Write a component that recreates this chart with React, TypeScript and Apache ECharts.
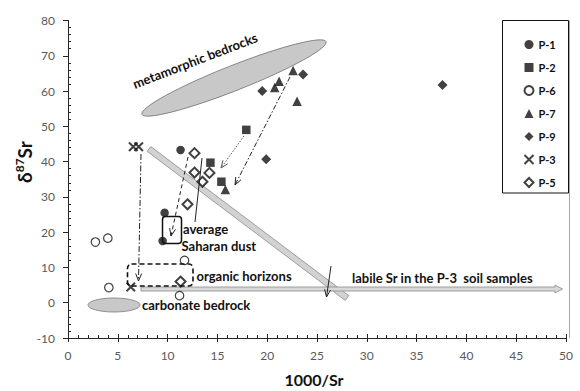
import React, { useEffect, useRef } from 'react';
import * as echarts from 'echarts';

const FONT = 'Lato, "Open Sans", sans-serif';

// ---- data (x = 1000/Sr, y = δ87Sr) ----
const seriesNames = ['P-1', 'P-2', 'P-6', 'P-7', 'P-9', 'P-3', 'P-5'];
const p1Data = [[11.3, 43.3], [9.7, 25.5], [9.5, 17.5]];
const p2Data = [[17.9, 49.0], [14.3, 39.7], [15.4, 34.3]];
const p6Data = [[2.75, 17.2], [4.0, 18.3], [4.1, 4.3], [11.7, 12.0], [11.2, 2.0]];
const p7Data = [[22.6, 65.8], [21.2, 62.8], [20.75, 61.0], [23.0, 57.1], [15.8, 32.1]];
const p9Data = [[23.6, 64.7], [19.5, 60.0], [19.9, 40.7], [37.6, 61.7]];
const p3Data = [[6.55, 44.2], [7.1, 44.2], [6.3, 4.45]];
const p5Data = [[12.7, 42.4], [12.7, 36.9], [14.2, 36.8], [13.5, 34.3], [12.0, 27.9], [11.3, 6.0]];

const xMin = 0, xMax = 50, xStep = 5;
const yMin = -10, yMax = 80, yStep = 10;

const xTitle = '1000/Sr';
const annotationTexts = {
  meta: 'metamorphic bedrocks',
  carb: 'carbonate bedrock',
  avg: 'average',
  sah: 'Saharan dust',
  org: 'organic horizons',
  labile: 'labile Sr in the P-3  soil samples',
};

function arrowHead(x1: number, y1: number, x2: number, y2: number, len = 7, ang = 0.42) {
  const a = Math.atan2(y2 - y1, x2 - x1);
  return [
    [x2 - len * Math.cos(a - ang), y2 - len * Math.sin(a - ang)],
    [x2, y2],
    [x2 - len * Math.cos(a + ang), y2 - len * Math.sin(a + ang)],
  ];
}

function band(x1: number, y1: number, x2: number, y2: number, w: number) {
  const L = Math.hypot(x2 - x1, y2 - y1);
  const nx = (-(y2 - y1) / L) * (w / 2);
  const ny = ((x2 - x1) / L) * (w / 2);
  return [
    [x1 + nx, y1 + ny],
    [x2 + nx, y2 + ny],
    [x2 - nx, y2 - ny],
    [x1 - nx, y1 - ny],
  ];
}

function arrow(x1: number, y1: number, x2: number, y2: number, dash: number[] | null, color = '#222', head = true) {
  const els: any[] = [
    {
      type: 'line',
      z: 8,
      shape: { x1, y1, x2, y2 },
      style: { stroke: color, lineWidth: 1, lineDash: dash || undefined },
    },
  ];
  if (head) {
    els.push({
      type: 'polyline',
      z: 8,
      shape: { points: arrowHead(x1, y1, x2, y2, 8, 0.38) },
      style: { stroke: color, lineWidth: 1, fill: null },
    });
  }
  return els;
}

export default function App() {
  const ref = useRef<HTMLDivElement>(null);

  useEffect(() => {
    document.body.style.margin = '0';
    if (!ref.current) return;
    const chart = echarts.init(ref.current, null, { renderer: 'svg' });

    const axisColor = '#262626';
    const labelStyle = { color: '#595959', fontSize: 12, fontFamily: FONT };
    const mk = (name: string, data: number[][], symbol: string, size: any, itemStyle: any) => ({
      type: 'scatter',
      name,
      data,
      symbol,
      symbolSize: size,
      itemStyle,
      z: 5,
      emphasis: { disabled: true },
    });
    const txt = (x: number, y: number, text: string, extra: any = {}) => ({
      type: 'text',
      x,
      y,
      z: 10,
      ...extra,
      style: {
        text,
        fontFamily: FONT,
        fontWeight: 'bold',
        fontSize: 13,
        fill: '#111',
        align: 'left',
        verticalAlign: 'middle',
        ...(extra.style || {}),
      },
    });

    const graphics: any[] = [
      // metamorphic bedrocks ellipse
      {
        type: 'ellipse',
        x: 234,
        y: 78,
        rotation: (21.5 * Math.PI) / 180,
        z: 1,
        shape: { cx: 0, cy: 0, rx: 99, ry: 12.5 },
        style: { fill: '#c8c8c8', stroke: '#7a7a7a', lineWidth: 0.8 },
      },
      txt(195, 60.5, annotationTexts.meta, {
        rotation: (21 * Math.PI) / 180,
        style: { align: 'center' },
      }),
      // carbonate bedrock
      {
        type: 'ellipse',
        z: 1,
        shape: { cx: 114, cy: 305, rx: 26, ry: 7 },
        style: { fill: '#c8c8c8', stroke: '#7a7a7a', lineWidth: 0.8 },
      },
      txt(142, 305, annotationTexts.carb),
      // diagonal band
      {
        type: 'polygon',
        z: 2,
        shape: { points: band(149, 149, 347, 298, 6) },
        style: { fill: '#d2d2d2', stroke: '#8c8c8c', lineWidth: 0.8 },
      },
      // horizontal arrow band
      {
        type: 'polygon',
        z: 2,
        shape: {
          points: [
            [141, 287],
            [555, 287],
            [555, 285],
            [562.5, 289],
            [555, 293],
            [555, 291],
            [141, 291],
          ],
        },
        style: { fill: '#d9d9d9', stroke: '#8c8c8c', lineWidth: 0.8 },
      },
      txt(352, 278, annotationTexts.labile),
      // Saharan dust box
      {
        type: 'rect',
        z: 7,
        shape: { x: 162.5, y: 216.5, width: 19, height: 27, r: 3 },
        style: { fill: null, stroke: '#111', lineWidth: 1.5 },
      },
      txt(183, 229, annotationTexts.avg),
      txt(181.5, 246, annotationTexts.sah),
      // organic horizons box
      {
        type: 'rect',
        z: 7,
        shape: { x: 127.5, y: 264, width: 65.5, height: 22, r: 4 },
        style: { fill: null, stroke: '#111', lineWidth: 1.6, lineDash: [5, 3] },
      },
      txt(196.5, 275.5, annotationTexts.org),
      // arrows
      ...arrow(141, 154, 138.5, 281, [6, 2, 1.5, 2]),
      ...arrow(188, 157, 171, 236, [4, 3]),
      ...arrow(202, 158, 195, 222, null, '#222', false),
      ...arrow(244, 136, 221, 168, [1.5, 1.5], '#555'),
      ...arrow(290, 77, 235, 185, [5, 2, 1.5, 2]),
      ...arrow(331, 266, 326.5, 297, null),
      // legend box and right border
      {
        type: 'rect',
        z: 1,
        shape: { x: 502.5, y: 20.5, width: 66, height: 172.5 },
        style: { fill: '#fff', stroke: '#111', lineWidth: 1 },
      },
      {
        type: 'line',
        z: 1,
        shape: { x1: 569.5, y1: 20.5, x2: 569.5, y2: 338 },
        style: { stroke: '#a6a6a6', lineWidth: 1 },
      },
      // axis titles
      {
        type: 'text',
        x: 314,
        y: 379,
        z: 10,
        style: {
          text: xTitle,
          fontFamily: FONT,
          fontWeight: 'bold',
          fontSize: 16,
          fill: '#111',
          align: 'center',
          verticalAlign: 'middle',
        },
      },
      {
        type: 'text',
        x: 24,
        y: 162,
        z: 10,
        rotation: Math.PI / 2,
        style: {
          text: '{d|δ}{s|87}{d|Sr}',
          align: 'center',
          verticalAlign: 'middle',
          rich: {
            d: { fontFamily: FONT, fontWeight: 'bold', fontSize: 19, fill: '#111', lineHeight: 22 },
            s: { fontFamily: FONT, fontWeight: 'bold', fontSize: 12, fill: '#111', verticalAlign: 'top', lineHeight: 14 },
          },
        },
      },
    ];

    chart.setOption({
      animation: false,
      grid: { left: 68, right: 14, top: 20.5, bottom: 53, containLabel: false },
      legend: {
        data: seriesNames,
        orient: 'vertical',
        left: 523.5,
        top: 39,
        itemWidth: 9,
        itemHeight: 9,
        itemGap: 12,
        padding: 0,
        selectedMode: false,
        textStyle: { fontFamily: FONT, fontWeight: 'bold', fontSize: 11, color: '#111' },
        z: 6,
      },
      xAxis: [
        {
          type: 'value',
          min: xMin,
          max: xMax,
          interval: xStep,
          position: 'bottom',
          axisLine: { show: true, onZero: false, lineStyle: { color: axisColor } },
          axisTick: { show: true, length: 4, lineStyle: { color: axisColor } },
          axisLabel: { ...labelStyle, margin: 11 },
          splitLine: { show: false },
        },
        {
          type: 'value',
          min: xMin,
          max: xMax,
          interval: xStep,
          position: 'bottom',
          axisLine: { show: false, onZero: false },
          axisTick: { show: true, inside: true, length: 4, lineStyle: { color: axisColor } },
          minorTick: { show: true, splitNumber: 5, length: 3, lineStyle: { color: axisColor } },
          axisLabel: { show: false },
          splitLine: { show: false },
        },
      ],
      yAxis: [
        {
          type: 'value',
          min: yMin,
          max: yMax,
          interval: yStep,
          position: 'left',
          axisLine: { show: true, onZero: false, lineStyle: { color: axisColor } },
          axisTick: { show: true, length: 5, lineStyle: { color: axisColor } },
          axisLabel: { ...labelStyle, margin: 13 },
          splitLine: { show: false },
        },
        {
          type: 'value',
          min: yMin,
          max: yMax,
          interval: yStep,
          position: 'left',
          axisLine: { show: false, onZero: false },
          axisTick: { show: false, inside: true },
          minorTick: { show: true, splitNumber: 5, length: 3, lineStyle: { color: axisColor } },
          axisLabel: { show: false },
          splitLine: { show: false },
        },
      ],
      series: [
        mk('P-1', p1Data, 'circle', 8.5, { color: '#111' }),
        mk('P-2', p2Data, 'rect', 8.5, { color: '#111' }),
        mk('P-6', p6Data, 'circle', 8.5, { color: '#fff', borderColor: '#111', borderWidth: 1.2 }),
        mk('P-7', p7Data, 'triangle', 9.5, { color: '#111' }),
        mk('P-9', p9Data, 'diamond', [10, 10], { color: '#111' }),
        mk('P-3', p3Data, 'path://M0,0L10,10M10,0L0,10', 8.5, {
          color: 'transparent',
          borderColor: '#111',
          borderWidth: 2,
        }),
        mk('P-5', p5Data, 'diamond', [10, 10], { color: '#fff', borderColor: '#111', borderWidth: 2 }),
      ],
      graphic: graphics,
    });

    return () => chart.dispose();
  }, []);

  return <div ref={ref} style={{ width: 580, height: 391 }} />;
}
